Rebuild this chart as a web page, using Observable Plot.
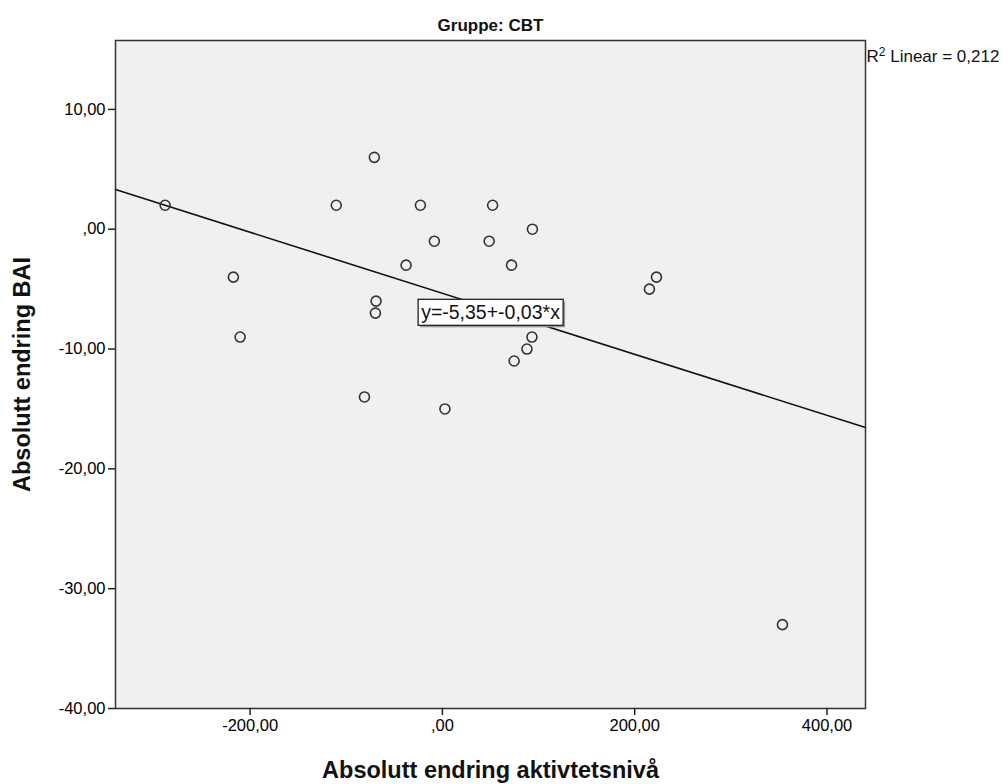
<!DOCTYPE html>
<html>
<head>
<meta charset="utf-8">
<script src="https://cdn.jsdelivr.net/npm/d3@7"></script>
<script src="https://cdn.jsdelivr.net/npm/@observablehq/plot@0.6"></script>
<style>
  body { margin: 0; background: #fff; }
  #chart svg { display: block; }
</style>
</head>
<body>
<div id="chart"></div>
<script>
// ---- data ----
const aktivitet = [-288.4, -70.8, -110.4, -22.9, -8.4, -37.8, -217.4, -69, -69.7, -210.4, -81.1,
                   52.2, 48.6, 93.6, 71.9, 222.6, 215.3, 93.1, 87.9, 74.6, 2.6, 353.6];
const bai       = [2, 6, 2, 2, -1, -3, -4, -6, -7, -9, -14,
                   2, -1, 0, -3, -4, -5, -9, -10, -11, -15, -33];
const xTicks = [-200, 0, 200, 400];
const yTicks = [10, 0, -10, -20, -30, -40];
const titleText = "Gruppe: CBT";
const xLabel = "Absolutt endring aktivtetsnivå";
const yLabel = "Absolutt endring BAI";

const dec = (v, n) => d3.format("." + n + "f")(v).replace("−", "-").replace(".", ",");
const fmt = d => d === 0 ? ",00" : dec(d, 2);

const data = aktivitet.map((x, i) => ({x, y: bai[i]}));

// least squares fit computed from the data
const mx = d3.mean(aktivitet), my = d3.mean(bai);
const sxy = d3.sum(data, d => (d.x - mx) * (d.y - my));
const sxx = d3.sum(data, d => (d.x - mx) ** 2);
const syy = d3.sum(data, d => (d.y - my) ** 2);
const slope = sxy / sxx;
const intercept = my - slope * mx;
const r2 = sxy * sxy / (sxx * syy);

const xDomain = [-340, 440];
const yDomain = [-40, 15.75];
const fitLine = xDomain.map(x => ({x, y: intercept + slope * x}));
const xMid = (xDomain[0] + xDomain[1]) / 2;
const eqText = "y=" + dec(intercept, 2) + "+" + dec(slope, 2) + "*x";
const r2Value = dec(r2, 3);

const font = "'Liberation Sans', Arial, sans-serif";

const chart = Plot.plot({
  width: 1008,
  height: 784,
  marginLeft: 115,
  marginRight: 143,
  marginTop: 40,
  marginBottom: 76,
  style: {fontFamily: font, fontSize: "16px", color: "#000", background: "#fff", overflow: "visible"},
  x: {domain: xDomain},
  y: {domain: yDomain},
  marks: [
    Plot.frame({fill: "#f0f0f0", stroke: "none"}),
    Plot.line(fitLine, {x: "x", y: "y", stroke: "#111", strokeWidth: 1.6}),
    Plot.dot(data, {x: "x", y: "y", r: 5, stroke: "#333", strokeWidth: 1.6, fill: "none"}),
    Plot.text([{x: xMid, y: intercept + slope * xMid, t: eqText}],
      {x: "x", y: "y", text: "t", dy: 4.5, fontSize: 19.5, fill: "#111", className: "eqlabel"}),
    Plot.frame({stroke: "#333", strokeWidth: 1.5}),
    Plot.axisX({ticks: xTicks, tickFormat: fmt, tickSize: 7, tickPadding: 4, label: null, fontSize: 16.5, stroke: "#222", strokeWidth: 1.5}),
    Plot.axisY({ticks: yTicks, tickFormat: fmt, tickSize: 7, tickPadding: 3, label: null, fontSize: 16.5, stroke: "#222", strokeWidth: 1.5}),
    Plot.text([titleText], {frameAnchor: "top", lineAnchor: "middle", textAnchor: "middle", dy: -15, text: d => d, fontSize: 17, fontWeight: "bold", fill: "#111"}),
    Plot.text([xLabel], {frameAnchor: "bottom", lineAnchor: "middle", textAnchor: "middle", dy: 62, text: d => d, fontSize: 23.5, fontWeight: "bold", fill: "#111"}),
    Plot.text([yLabel], {frameAnchor: "left", lineAnchor: "middle", textAnchor: "middle", dx: -93, rotate: -90, text: d => d, fontSize: 23.5, fontWeight: "bold", fill: "#111"}),
    Plot.text(["R2 Linear = " + r2Value], {frameAnchor: "top-right", lineAnchor: "middle", textAnchor: "start", dx: 1, dy: 16, text: d => d, fontSize: 17, fill: "#111", className: "r2label"})
  ]
});

document.getElementById("chart").appendChild(chart);

const ns = "http://www.w3.org/2000/svg";

// superscript 2 in the R² label
const r2t = chart.querySelector("g.r2label text");
if (r2t) {
  const keepDy = r2t.getAttribute("dy");
  r2t.textContent = "";
  const t1 = document.createElementNS(ns, "tspan"); t1.textContent = "R";
  const t2 = document.createElementNS(ns, "tspan"); t2.textContent = "2";
  t2.setAttribute("font-size", "12"); t2.setAttribute("dy", "-6");
  const t3 = document.createElementNS(ns, "tspan"); t3.textContent = " Linear = " + r2Value;
  t3.setAttribute("dy", "6");
  r2t.append(t1, t2, t3);
  if (keepDy) r2t.setAttribute("dy", keepDy);
}

// white box with shadow behind the equation label
const eq = chart.querySelector("g.eqlabel text");
if (eq) {
  const b = eq.getBBox();
  const tr = eq.getAttribute("transform");
  const g = eq.parentNode;
  const padX = 3, padY = 2;
  const mk = (off, fill) => {
    const r = document.createElementNS(ns, "rect");
    r.setAttribute("x", b.x - padX + off);
    r.setAttribute("y", b.y - padY + off);
    r.setAttribute("width", b.width + 2 * padX);
    r.setAttribute("height", b.height + 2 * padY);
    r.setAttribute("fill", fill);
    if (tr) r.setAttribute("transform", tr);
    return r;
  };
  const shadow = mk(2, "#999");
  const box = mk(0, "#fff");
  box.setAttribute("stroke", "#222");
  box.setAttribute("stroke-width", 1.3);
  g.insertBefore(box, eq);
  g.insertBefore(shadow, box);
}
</script>
</body>
</html>
